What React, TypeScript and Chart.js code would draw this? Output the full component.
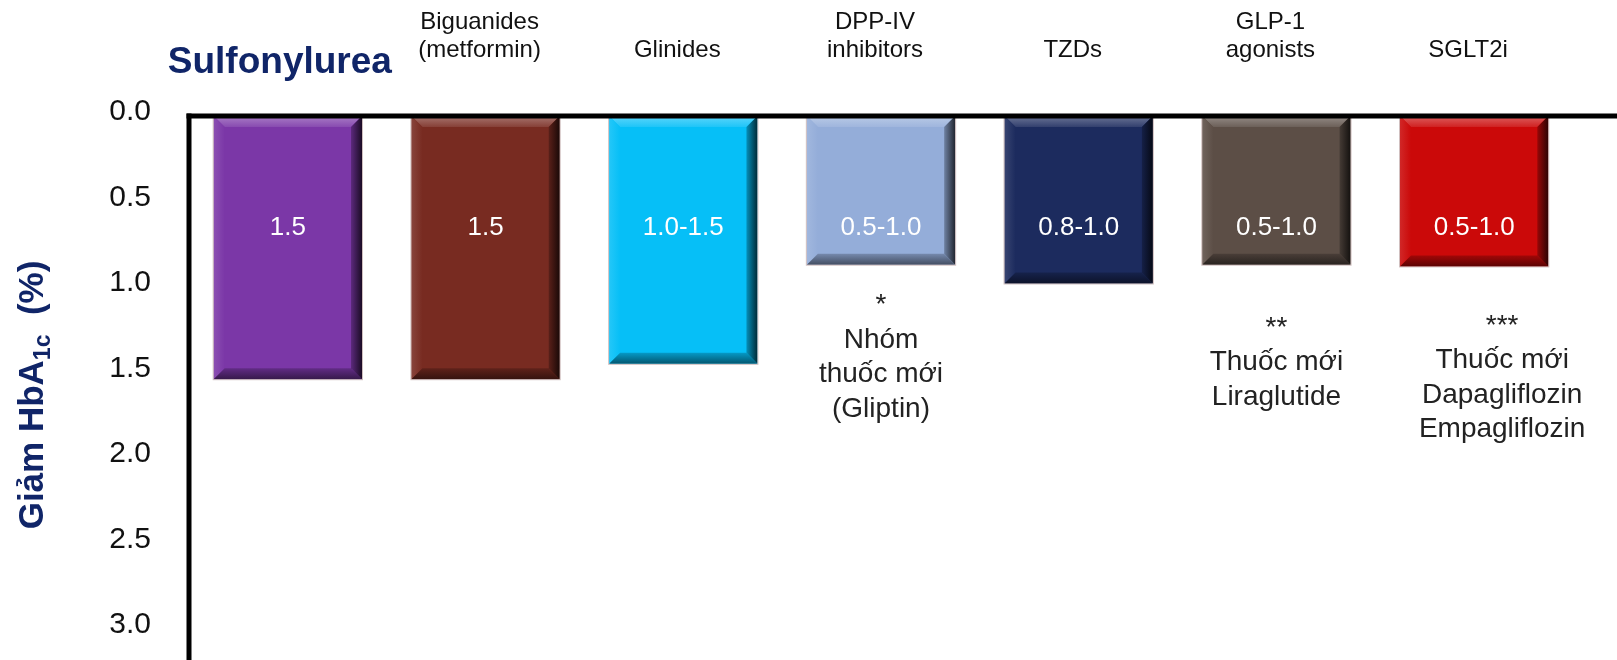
import React, { useEffect, useRef } from "react";
import { Chart, registerables } from "chart.js";

Chart.register(...registerables);

// ---------- data ----------
const categoryLines: string[][] = [
  ["Sulfonylurea"],
  ["Biguanides", "(metformin)"],
  ["Glinides"],
  ["DPP-IV", "inhibitors"],
  ["TZDs"],
  ["GLP-1", "agonists"],
  ["SGLT2i"],
];
const hba1cReduction = [1.54, 1.54, 1.45, 0.87, 0.98, 0.87, 0.88];
const barLabels = ["1.5", "1.5", "1.0-1.5", "0.5-1.0", "0.8-1.0", "0.5-1.0", "0.5-1.0"];
const barColors = ["#7B37A7", "#782B21", "#06BFF7", "#94ADD9", "#1C2B5E", "#5C4E46", "#CB0909"];
const notes: string[][] = [
  [],
  [],
  [],
  ["*", "Nhóm", "thuốc mới", "(Gliptin)"],
  [],
  ["**", "Thuốc mới", "Liraglutide"],
  ["***", "Thuốc mới", "Dapagliflozin", "Empagliflozin"],
];
const yTicks = [0, 0.5, 1.0, 1.5, 2.0, 2.5, 3.0];
const yTitleMain = "Giảm HbA";
const yTitleSub = "1c";
const yTitleTail = "  (%)";

// ---------- style ----------
const FONT = "'Liberation Sans', Arial, Helvetica, sans-serif";
const NAVY = "#102568";
const Y_MAX = 3.183;
const LABEL_VALUE = 0.655;
const NOTE_START: Record<number, number> = { 3: 1.11, 5: 1.24, 6: 1.23 };
const NOTE_DX: Record<number, number> = { 6: 28 };

function hexToRgb(h: string) {
  const n = parseInt(h.slice(1), 16);
  return [(n >> 16) & 255, (n >> 8) & 255, n & 255];
}
function mix(h: string, target: "w" | "k", t: number) {
  const [r, g, b] = hexToRgb(h);
  const v = target === "w" ? 255 : 0;
  const f = (c: number) => Math.round(c + (v - c) * t);
  return `rgb(${f(r)},${f(g)},${f(b)})`;
}

const decorPlugin = {
  id: "decor",
  afterDatasetsDraw(chart: any) {
    const ctx = chart.ctx as CanvasRenderingContext2D;
    const meta = chart.getDatasetMeta(0);
    const yScale = chart.scales.y;
    const area = chart.chartArea;
    const bv = 11;
    meta.data.forEach((el: any, i: number) => {
      const { x, y, base, width } = el.getProps(["x", "y", "base", "width"], true);
      const L = x - width / 2;
      const R = x + width / 2;
      const T = Math.min(y, base);
      const B = Math.max(y, base);
      const c = barColors[i];
      ctx.save();
      // top bevel
      let g = ctx.createLinearGradient(0, T, 0, T + bv);
      g.addColorStop(0, mix(c, "w", 0.35));
      g.addColorStop(1, mix(c, "w", 0.1));
      ctx.fillStyle = g;
      ctx.beginPath();
      ctx.moveTo(L, T); ctx.lineTo(R, T); ctx.lineTo(R - bv, T + bv); ctx.lineTo(L + bv, T + bv); ctx.closePath();
      ctx.fill();
      // left bevel
      g = ctx.createLinearGradient(L, 0, L + bv, 0);
      g.addColorStop(0, mix(c, "w", 0.12));
      g.addColorStop(1, c);
      ctx.fillStyle = g;
      ctx.beginPath();
      ctx.moveTo(L, T); ctx.lineTo(L + bv, T + bv); ctx.lineTo(L + bv, B - bv); ctx.lineTo(L, B); ctx.closePath();
      ctx.fill();
      // bottom bevel
      g = ctx.createLinearGradient(0, B - bv, 0, B);
      g.addColorStop(0, mix(c, "k", 0.2));
      g.addColorStop(1, mix(c, "k", 0.55));
      ctx.fillStyle = g;
      ctx.beginPath();
      ctx.moveTo(L, B); ctx.lineTo(R, B); ctx.lineTo(R - bv, B - bv); ctx.lineTo(L + bv, B - bv); ctx.closePath();
      ctx.fill();
      // right bevel
      g = ctx.createLinearGradient(R - bv, 0, R, 0);
      g.addColorStop(0, mix(c, "k", 0.25));
      g.addColorStop(1, mix(c, "k", 0.78));
      ctx.fillStyle = g;
      ctx.beginPath();
      ctx.moveTo(R, T); ctx.lineTo(R - bv, T + bv); ctx.lineTo(R - bv, B - bv); ctx.lineTo(R, B); ctx.closePath();
      ctx.fill();
      // thin outline
      ctx.strokeStyle = "rgba(200,180,180,0.85)";
      ctx.lineWidth = 1;
      ctx.strokeRect(L - 0.5, T, width + 1, B - T + 0.5);
      ctx.restore();

      // value label inside bar
      ctx.save();
      ctx.fillStyle = "#ffffff";
      ctx.font = `26px ${FONT}`;
      ctx.textAlign = "center";
      ctx.textBaseline = "middle";
      ctx.fillText(barLabels[i], x, yScale.getPixelForValue(LABEL_VALUE));
      ctx.restore();

      // notes below bars
      const lines = notes[i];
      if (lines && lines.length) {
        const y0 = yScale.getPixelForValue(NOTE_START[i]);
        const nx = x + (NOTE_DX[i] || 0);
        ctx.save();
        ctx.fillStyle = "#222222";
        ctx.font = `28px ${FONT}`;
        ctx.textAlign = "center";
        ctx.textBaseline = "middle";
        lines.forEach((t, k) => ctx.fillText(t, nx, y0 + k * 34.5));
        ctx.restore();
      }
    });

    // axis lines
    ctx.save();
    ctx.fillStyle = "#000";
    ctx.fillRect(area.left - 2.5, area.top - 2.5, chart.width - area.left + 2.5, 5);
    ctx.fillRect(area.left - 2.5, area.top - 2.5, 5, chart.height - area.top + 2.5);
    ctx.restore();
  },
  afterDraw(chart: any) {
    const ctx = chart.ctx as CanvasRenderingContext2D;
    const meta = chart.getDatasetMeta(0);
    // category labels on top
    categoryLines.forEach((lines, i) => {
      const x = meta.data[i].x;
      ctx.save();
      ctx.textAlign = "center";
      ctx.textBaseline = "alphabetic";
      if (i === 0) {
        ctx.font = `bold 37px ${FONT}`;
        ctx.fillStyle = NAVY;
        ctx.fillText(lines[0], x - 8, 73);
      } else {
        ctx.font = `24px ${FONT}`;
        ctx.fillStyle = "#111111";
        const n = lines.length;
        lines.forEach((t, k) => ctx.fillText(t, x - 6, 57 - (n - 1 - k) * 28));
      }
      ctx.restore();
    });

    // y-axis title with subscript
    ctx.save();
    ctx.translate(43, 395);
    ctx.rotate(-Math.PI / 2);
    ctx.fillStyle = NAVY;
    ctx.textBaseline = "alphabetic";
    ctx.textAlign = "left";
    const mainFont = `bold 35px ${FONT}`;
    const subFont = `bold 23px ${FONT}`;
    ctx.font = mainFont;
    const w1 = ctx.measureText(yTitleMain).width;
    const w3 = ctx.measureText(yTitleTail).width;
    ctx.font = subFont;
    const w2 = ctx.measureText(yTitleSub).width;
    let sx = -(w1 + w2 + w3) / 2;
    ctx.font = mainFont;
    ctx.fillText(yTitleMain, sx, 0);
    sx += w1;
    ctx.font = subFont;
    ctx.fillText(yTitleSub, sx, 7);
    sx += w2;
    ctx.font = mainFont;
    ctx.fillText(yTitleTail, sx, 0);
    ctx.restore();
  },
};

export default function App() {
  const canvasRef = useRef<HTMLCanvasElement | null>(null);

  useEffect(() => {
    if (!canvasRef.current) return;
    const chart = new Chart(canvasRef.current, {
      type: "bar",
      data: {
        labels: categoryLines.map((l) => l.join(" ")),
        datasets: [
          {
            data: hba1cReduction,
            backgroundColor: barColors,
            borderWidth: 0,
            barPercentage: 0.75,
            categoryPercentage: 1,
          },
        ],
      },
      options: {
        responsive: false,
        animation: false,
        devicePixelRatio: 1,
        layout: { padding: { top: 116, right: 44, bottom: 0, left: 0 } },
        plugins: { legend: { display: false }, tooltip: { enabled: false }, title: { display: false } },
        scales: {
          x: { display: false, offset: true },
          y: {
            reverse: true,
            min: 0,
            max: Y_MAX,
            bounds: "data",
            grid: { display: false, drawTicks: false },
            border: { display: false },
            ticks: {
              font: { size: 30, family: FONT },
              color: "#111111",
              padding: 38,
              labelOffset: -4,
              includeBounds: false,
              stepSize: 0.5,
              callback: (v: any) => Number(v).toFixed(1),
            },
            afterBuildTicks: (s: any) => {
              s.ticks = yTicks.map((v) => ({ value: v }));
            },
            afterFit: (s: any) => {
              s.width = 189;
              s.paddingTop = 0;
              s.paddingBottom = 0;
            },
          },
        },
      },
      plugins: [decorPlugin],
    } as any);
    return () => chart.destroy();
  }, []);

  return (
    <div style={{ position: "fixed", left: 0, top: 0, width: 1617, height: 660, background: "#fff" }}>
      <canvas ref={canvasRef} width={1617} height={660} style={{ width: 1617, height: 660, display: "block" }} />
    </div>
  );
}
